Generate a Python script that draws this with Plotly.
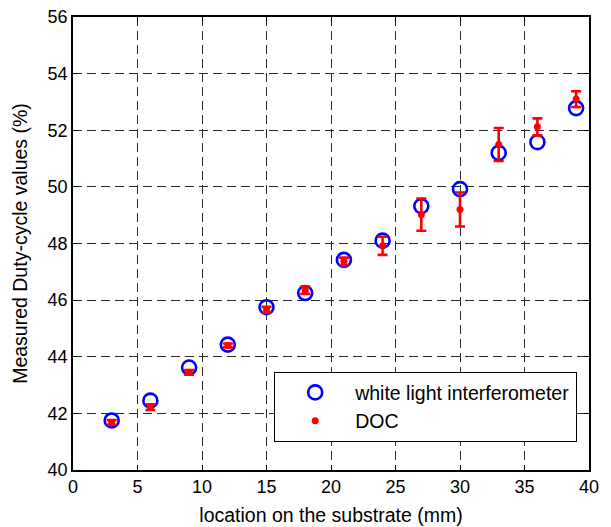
import plotly.graph_objects as go

# Measurement positions along the substrate (mm)
location_mm = [3, 6, 9, 12, 15, 18, 21, 24, 27, 30, 33, 36, 39]

# Duty cycle from the white light interferometer (%)
wli_duty = [41.75, 42.45, 43.62, 44.43, 45.75, 46.25, 47.42, 48.1, 49.32, 49.92, 51.2, 51.58, 52.78]

# Duty cycle from DOC with its spread (%)
doc_duty = [41.68, 42.22, 43.45, 44.4, 45.66, 46.35, 47.37, 47.92, 49.02, 49.2, 51.5, 52.12, 53.1]
doc_err = [0.08, 0.1, 0.08, 0.07, 0.1, 0.13, 0.13, 0.32, 0.57, 0.6, 0.58, 0.3, 0.28]

x_ticks = list(range(0, 41, 5))
y_ticks = list(range(40, 57, 2))

FONT = "Liberation Sans, Arial, sans-serif"
TICK_SIZE = 18
LABEL_SIZE = 19.5

fig = go.Figure()

fig.add_trace(go.Scatter(
    x=location_mm, y=wli_duty, mode="markers",
    name="white light interferometer",
    marker=dict(symbol="circle-open", size=14, color="#0000ff",
                line=dict(width=2.6, color="#0000ff")),
))

fig.add_trace(go.Scatter(
    x=location_mm, y=doc_duty, mode="markers",
    name="DOC",
    marker=dict(symbol="circle", size=7, color="#ff0000"),
    error_y=dict(type="data", array=doc_err, visible=True,
                 color="#ff0000", thickness=2.6, width=5),
))

axis_common = dict(
    showline=True, linecolor="black", linewidth=1.5, mirror="ticks",
    ticks="inside", ticklen=5, tickcolor="black",
    showgrid=True, gridcolor="#2a2a2a", gridwidth=1, griddash="9px,5px",
    zeroline=False, automargin=False,
    tickfont=dict(family=FONT, size=TICK_SIZE, color="black"),
)

fig.update_xaxes(
    range=[0, 40], tickvals=x_ticks,
    title=dict(text="location on the substrate (mm)",
               font=dict(family=FONT, size=LABEL_SIZE, color="black"), standoff=12),
    **axis_common,
)
fig.update_yaxes(
    range=[40, 56], tickvals=y_ticks,
    title=dict(text="Measured Duty-cycle values (%)",
               font=dict(family=FONT, size=LABEL_SIZE, color="black"), standoff=15),
    **axis_common,
)

fig.update_layout(
    width=611, height=527,
    margin=dict(l=73, r=22, t=17, b=57),
    paper_bgcolor="white", plot_bgcolor="white",
    font=dict(family=FONT, size=LABEL_SIZE, color="black"),
    showlegend=True,
    legend=dict(
        x=0.3895, y=0.2163, xanchor="left", yanchor="top",
        bgcolor="white", bordercolor="black", borderwidth=1.2,
        font=dict(family=FONT, size=LABEL_SIZE, color="black"),
        itemwidth=70, tracegroupgap=0,
    ),
)

fig.write_html("out.html")
